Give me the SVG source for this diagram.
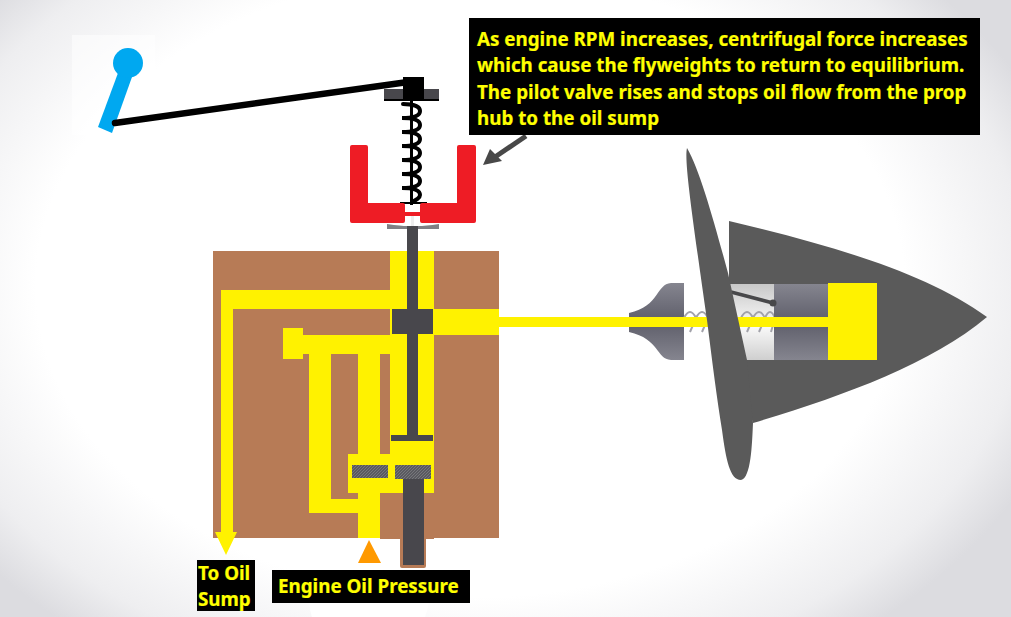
<svg xmlns="http://www.w3.org/2000/svg" width="1011" height="617" viewBox="0 0 1011 617">
<style>
.y{fill:#FFF200}
.b{fill:#B77B56}
.d{fill:#48474C}
.lbl{fill:#FFFF00;stroke:#FFFF00;stroke-width:.2;font-family:"Noto Sans","Open Sans",sans-serif;font-weight:700;font-size:18.8px}
</style>
<defs>
<radialGradient id="bg" gradientUnits="userSpaceOnUse" cx="0" cy="0" r="620" gradientTransform="translate(470 285) scale(1 .72)">
<stop offset="0" stop-color="#fff"/><stop offset=".7" stop-color="#fff"/><stop offset=".9" stop-color="#eeeef0"/><stop offset="1" stop-color="#dcdce0"/>
</radialGradient>
<linearGradient id="metal" x1="0" y1="0" x2="0" y2="1"><stop offset="0" stop-color="#85858f"/><stop offset=".5" stop-color="#5e5e6a"/><stop offset="1" stop-color="#85858f"/></linearGradient>
<linearGradient id="win" x1="0" y1="0" x2="0" y2="1"><stop offset="0" stop-color="#c8c8c8"/><stop offset=".55" stop-color="#fafafa"/><stop offset="1" stop-color="#cfcfcf"/></linearGradient>
<pattern id="hatch" width="3" height="3" patternUnits="userSpaceOnUse"><rect width="3" height="3" fill="#5a5a60"/><path d="M0 3L3 0" stroke="#77777c" stroke-width="1"/></pattern>
</defs>
<rect id="background" width="1011" height="617" fill="url(#bg)"/>
<rect x="72" y="35" width="83" height="100" fill="#fff" opacity=".5"/>
<path d="M312 617C306 600 312 578 332 572C345 558 385 558 400 566C425 566 436 590 425 617Z" fill="#fff"/>

<g id="governor-body">
<rect class="b" x="213" y="251" width="286" height="287"/>
<rect class="b" x="400" y="490" width="26" height="78" rx="2"/>
</g>
<g id="oil-channels">
<path class="y" d="M390 251H434V538H390V493H380V538H358V513H309V354H303V359H283V328H303V335H390V309H233V532H237L226 555L215 532H221V290H390Z"/>
<rect class="b" x="331" y="354" width="27" height="145"/>
<rect class="b" x="380" y="354" width="10" height="100"/>
<rect class="y" x="348" y="454" width="86" height="39"/>
<rect class="b" x="380" y="493" width="54" height="46"/>
<rect class="y" x="434" y="309" width="65" height="26"/>
<rect class="y" x="499" y="317" width="130" height="10"/>
</g>
<g id="pilot-valve">
<rect class="d" x="407" y="228" width="11" height="210"/>
<rect class="d" x="392" y="309" width="41" height="25"/>
<rect class="d" x="391" y="435" width="42" height="6"/>
<rect fill="url(#hatch)" x="352" y="465" width="36" height="13"/>
<rect fill="url(#hatch)" x="395" y="465" width="36" height="14"/>
<rect class="d" x="403" y="479" width="21" height="86"/>
</g>
<path id="pressure-arrow" d="M369 540L381 563H358Z" fill="#FF9900"/>

<g id="throttle-lever">
<path d="M98 127L112 133L132 77L118 73Z" fill="#00A8F0"/>
<circle cx="128" cy="63" r="15" fill="#00A8F0"/>
</g>
<g id="speeder-spring">
<rect class="d" x="384" y="89" width="55" height="11"/>
<rect x="384" y="99" width="55" height="2"/>
<rect x="403" y="77" width="21" height="23"/>
<rect x="410" y="100" width="3" height="105"/>
<path d="M403 104C412 104 420 106 420 111C420 116 412 118 402 118C412 118 420 120 420 125C420 130 412 132 402 132C412 132 420 134 420 139C420 144 412 146 402 146C412 146 420 148 420 153C420 158 412 160 402 160C412 160 420 162 420 167C420 172 412 174 402 174C412 174 420 176 420 181C420 186 412 188 402 188C412 188 420 190 420 195C420 198 416 200 412 202" fill="none" stroke="#000" stroke-width="4" stroke-linecap="round"/>
<rect x="400" y="202" width="27" height="2"/>
</g>
<g id="flyweights">
<path d="M387 224Q402 226 407 226H418Q425 226 439 224V229H418V232H407V229H387Z" fill="#808085"/>
<rect class="d" x="407" y="226" width="11" height="6"/>
<rect x="411" y="216" width="3" height="10" fill="#eee"/>
<path d="M352 145H366Q368 145 368 147V203H403Q405 203 405 205V221Q405 223 403 223H352Q350 223 350 221V147Q350 145 352 145Z" fill="#EE1C25"/>
<path d="M474 145H459Q457 145 457 147V203H422Q420 203 420 205V221Q420 223 422 223H474Q476 223 476 221V147Q476 145 474 145Z" fill="#EE1C25"/>
<rect x="405" y="212" width="15" height="4" fill="#EE1C25"/>
</g>

<g id="propeller-hub">
<path d="M684 283H671C656 284 660 306 629 313V332C660 339 656 359 671 360H684Z" fill="url(#metal)"/>
<rect x="728" y="284" width="46" height="76" fill="url(#win)"/>
<path d="M684 318Q690 306 696 318L690 332M696 318Q702 306 708 318L702 332M741 318Q747 306 753 318L747 332M753 318Q759 306 765 318L759 332M765 318Q770 306 775 318L771 332" fill="none" stroke="#a2a2aa" stroke-width="2"/>
<rect x="774" y="284" width="54" height="76" fill="url(#metal)"/>
<rect class="y" x="629" y="317" width="199" height="10"/>
<path d="M731 292L773 303" stroke="#48484a" stroke-width="3.5"/>
<circle cx="773" cy="303" r="3.5" fill="#48484a"/>
<path id="spinner" d="M729 221V284H828V360H735L753 423C840 397 930 365 987 317C925 272 830 245 729 221Z" fill="#5A5A5A"/>
<rect class="y" x="828" y="283" width="49" height="77"/>
<path id="blade" d="M687 148C684 160 692 215 707 320C712 360 717 400 722 430C726 460 730 480 741 480C751 478 752 445 753 423L747 360L728 273C715 225 700 170 687 148Z" fill="#5A5A5A"/>
</g>

<g id="connectors">
<path d="M115 123L408 82" fill="none" stroke="#000" stroke-width="6.5" stroke-linecap="round"/>
<path d="M526 136L495 157" stroke="#484848" stroke-width="5" fill="none"/>
<path d="M483 165L490 149L502 161Z" fill="#484848"/>
</g>

<g id="note">
<rect x="469" y="18" width="511" height="117"/>
<text class="lbl" x="477" y="46">As engine RPM increases, centrifugal force increases</text>
<text class="lbl" x="477" y="72">which cause the flyweights to return to equilibrium.</text>
<text class="lbl" x="477" y="99">The pilot valve rises and stops oil flow from the prop</text>
<text class="lbl" x="477" y="125">hub to the oil sump</text>
</g>
<g id="label-sump">
<rect x="197" y="560" width="58" height="51"/>
<text class="lbl" x="198" y="580">To Oil</text>
<text class="lbl" x="198" y="606">Sump</text>
</g>
<g id="label-pressure">
<rect x="272" y="570" width="198" height="33"/>
<text class="lbl" x="278" y="593">Engine Oil Pressure</text>
</g>
</svg>
